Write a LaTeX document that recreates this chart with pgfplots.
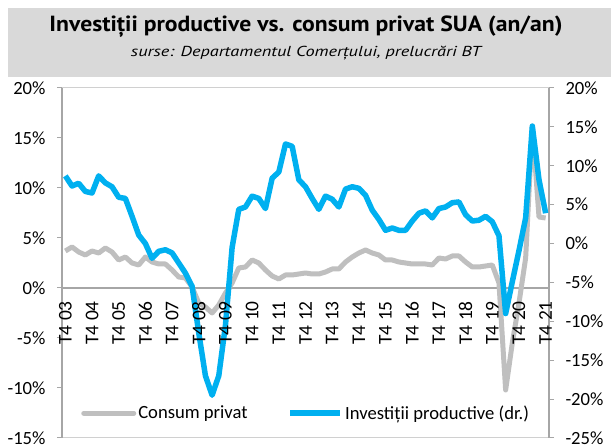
\documentclass[border=0pt]{standalone}
\usepackage{pgfplots}
\pgfplotsset{compat=1.18}
\usepackage{pgfplotstable}
\usepackage{fontspec}
\setmainfont{Carlito}
\newfontfamily\ptsans{PT Sans}
\definecolor{cgray}{HTML}{BFBFBF}
\definecolor{cblue}{HTML}{00B0F0}
\definecolor{axgray}{HTML}{A6A6A6}
\definecolor{boxgray}{HTML}{D9D9D9}
\definecolor{bordergray}{HTML}{D0D0D0}

\pgfplotstableread{
i cons
0 3.7
1 4.1
2 3.6
3 3.3
4 3.7
5 3.5
6 4.0
7 3.6
8 2.8
9 3.1
10 2.5
11 2.3
12 3.1
13 2.6
14 2.4
15 2.4
16 1.8
17 1.1
18 1.0
19 0.1
20 -1.5
21 -1.9
22 -2.5
23 -1.7
24 -0.5
25 0.5
26 2.0
27 2.1
28 2.8
29 2.5
30 1.8
31 1.2
32 0.9
33 1.3
34 1.3
35 1.4
36 1.5
37 1.4
38 1.4
39 1.6
40 1.9
41 1.9
42 2.6
43 3.1
44 3.5
45 3.8
46 3.5
47 3.3
48 2.8
49 2.8
50 2.6
51 2.5
52 2.4
53 2.4
54 2.4
55 2.3
56 3.0
57 2.9
58 3.2
59 3.2
60 2.6
61 2.1
62 2.1
63 2.2
64 2.3
65 0.5
66 -10.2
67 -5.5
68 -1.5
69 3.0
70 16.2
71 7.1
72 7.0
}\tcons

\pgfplotstableread{
i inv
0 8.7
1 7.4
2 7.75
3 6.7
4 6.5
5 8.7
6 7.8
7 7.3
8 5.95
9 5.8
10 3.5
11 1.1
12 0.0
13 -1.9
14 -1.0
15 -0.8
16 -1.2
17 -2.5
18 -3.8
19 -5.5
20 -11.5
21 -17.0
22 -19.5
23 -17.0
24 -10.5
25 -0.5
26 4.4
27 4.7
28 6.1
29 5.8
30 4.5
31 8.4
32 9.2
33 12.8
34 12.5
35 8.2
36 7.3
37 5.8
38 4.4
39 6.1
40 5.7
41 4.7
42 7.0
43 7.3
44 7.1
45 6.2
46 4.3
47 3.1
48 1.7
49 2.0
50 1.7
51 1.7
52 2.9
53 3.9
54 4.2
55 3.3
56 4.5
57 4.7
58 5.25
59 5.35
60 3.7
61 2.9
62 3.0
63 3.5
64 2.8
65 1.0
66 -9.0
67 -4.9
68 -0.9
69 3.3
70 15.1
71 8.2
72 3.9
}\tinv

\begin{document}
\begin{tikzpicture}[x=1bp,y=1bp]
\path[use as bounding box] (-62,-9) rectangle (549,438);
\fill[boxgray] (-54,361) rectangle (549,430);
\node[anchor=base,inner sep=0pt] at (244,406) {\resizebox{513bp}{\height}{\fontsize{22}{24}\selectfont\ptsans\bfseries Investiții productive vs. consum privat SUA (an/an)}};
\node[anchor=base,inner sep=0pt] at (244,381) {\resizebox{350bp}{\height}{\fontsize{14.5}{17}\selectfont\ptsans\itshape surse: Departamentul Comerțului, prelucrări BT}};
\draw[bordergray, line width=1bp] (0,350) -- (487,350);
\draw[bordergray, line width=1bp] (0,0) -- (487,0);

\begin{axis}[
  scale only axis, width=487bp, height=350bp, at={(0,0)}, anchor=south west,
  xmin=-0.5, xmax=72.5, ymin=-15, ymax=20,
  axis x line*=middle, axis y line*=left,
  axis line style={axgray, line width=1.3bp},
  xtick=\empty,
  minor xtick={-0.5,0.5,...,72.5},
  minor x tick style={axgray, line width=0.9bp},
  minor tick length=4bp,
  major tick length=5bp,
  tick align=outside,
  ytick={-15,-10,...,20},
  yticklabels={-15\%,-10\%,-5\%,0\%,5\%,10\%,15\%,20\%},
  ytick style={axgray, line width=1bp},
  yticklabel style={xshift=-8bp},
  ticklabel style={font=\fontsize{18.7}{20}\selectfont, text=black},
  clip=false,
]
\addplot[cgray, line width=5bp, line join=round] table[x=i,y=cons]{\tcons};
\end{axis}

\begin{axis}[
  scale only axis, width=487bp, height=350bp, at={(0,0)}, anchor=south west,
  xmin=-0.5, xmax=72.5, ymin=-25, ymax=20,
  axis x line=none, axis y line*=right,
  axis line style={axgray, line width=1.3bp},
  major tick length=5bp,
  tick align=outside,
  ytick={-25,-20,...,20},
  yticklabels={-25\%,-20\%,-15\%,-10\%,-5\%,0\%,5\%,10\%,15\%,20\%},
  ytick style={axgray, line width=1bp},
  yticklabel style={xshift=8bp},
  ticklabel style={font=\fontsize{18.7}{20}\selectfont, text=black},
  clip=false,
  legend style={draw=none, fill=none, at={(0.033,0.071)}, anchor=west,
    font=\fontsize{18.7}{20}\selectfont, /tikz/every even column/.append style={column sep=38bp}},
  legend columns=2,
  legend cell align=left,
  legend image code/.code={\draw[#1] (0bp,0bp) -- (50bp,0bp);},
]
\addlegendimage{cgray, line width=5bp, line cap=round}
\addlegendentry{Consum privat}
\addplot[cblue, line width=5.5bp, line join=round] table[x=i,y=inv]{\tinv};
\addlegendentry{Investiții productive (dr.)}
\end{axis}

\begin{axis}[
  scale only axis, width=487bp, height=350bp, at={(0,0)}, anchor=south west,
  xmin=-0.5, xmax=72.5, ymin=-15, ymax=20,
  axis x line*=middle, axis y line=none,
  axis line style={draw=none},
  xtick={0,4,...,72},
  xticklabels={T4 03,T4 04,T4 05,T4 06,T4 07,T4 08,T4 09,T4 10,T4 11,T4 12,T4 13,T4 14,T4 15,T4 16,T4 17,T4 18,T4 19,T4 20,T4 21},
  xtick style={draw=none},
  major tick length=4bp,
  tick align=outside,
  xticklabel style={rotate=90, anchor=east, inner xsep=9bp, inner ysep=1bp, font=\fontsize{19.5}{20}\selectfont, text=black},
]
\end{axis}
\end{tikzpicture}
\end{document}
